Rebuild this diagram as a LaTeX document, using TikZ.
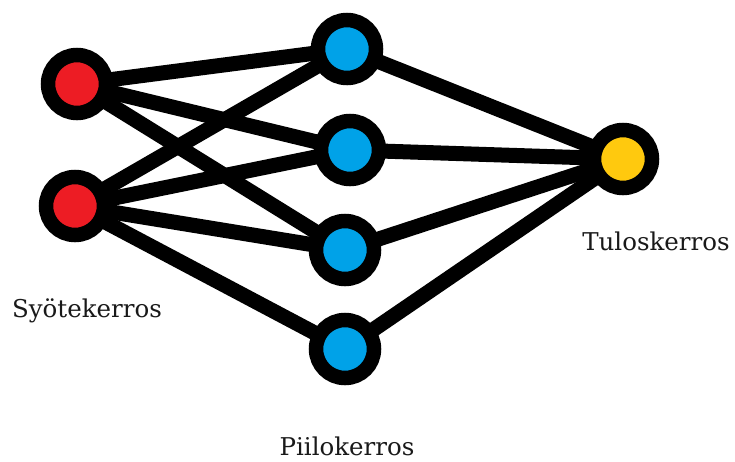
\documentclass[tikz,border=0pt]{standalone}
\usepackage{fontspec}
\setmainfont{DejaVu Serif}
\definecolor{inred}{HTML}{ED1C24}
\definecolor{hidblue}{HTML}{00A2E8}
\definecolor{outyel}{HTML}{FFC90E}
\begin{document}
\begin{tikzpicture}[x=1pt,y=-1pt,
  neuron/.style={circle, draw=black, line width=14.5pt, minimum size=58pt, inner sep=0pt},
  conn/.style={line width=15pt, black},
  lbl/.style={font=\fontsize{24.5}{28}\selectfont, text=black!90}]
\useasboundingbox (0,0) rectangle (735,461);
% node positions
\coordinate (i1) at (77,84);
\coordinate (i2) at (75,206);
\coordinate (h1) at (347,49);
\coordinate (h2) at (350,150);
\coordinate (h3) at (345,250);
\coordinate (h4) at (345,349);
\coordinate (o) at (623,159);
% connections
\foreach \a/\b in {i1/h1,i1/h2,i1/h3,i2/h1,i2/h2,i2/h3,i2/h4,h1/o,h2/o,h3/o,h4/o}
  \draw[conn] (\a) -- (\b);
% neurons on top
\node[neuron, fill=inred] (n1) at (i1) {};
\node[neuron, fill=inred] (n2) at (i2) {};
\node[neuron, fill=hidblue] (m1) at (h1) {};
\node[neuron, fill=hidblue] (m2) at (h2) {};
\node[neuron, fill=hidblue] (m3) at (h3) {};
\node[neuron, fill=hidblue] (m4) at (h4) {};
\node[neuron, fill=outyel] (out) at (o) {};
% labels
\node[lbl] (l1) at (87,311) {Syötekerros};
\node[lbl] (l2) at (347,446) {Piilokerros};
\node[lbl] (l3) at (656,241) {Tuloskerros};
\end{tikzpicture}
\end{document}
